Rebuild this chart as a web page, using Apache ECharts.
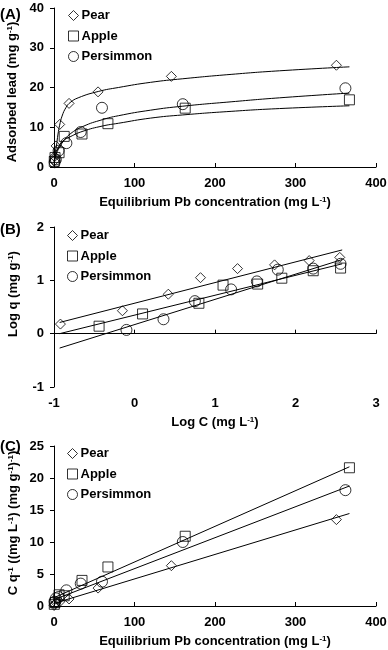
<!DOCTYPE html>
<html>
<head>
<meta charset="utf-8">
<script src="https://cdn.jsdelivr.net/npm/echarts@6/dist/echarts.min.js"></script>
<style>
  html, body { margin: 0; padding: 0; background: #fff; }
  #main { width: 388px; height: 650px; }
</style>
</head>
<body>
<div id="main"></div>
<script>
// (A) adsorbed lead q (mg/g) vs equilibrium concentration C (mg/L)
var pearC = [0.12, 0.7, 2.6, 7.1, 18.7, 54.7, 145.8, 350.8];
var pearQ = [1.5, 2.6, 5.3, 10.7, 16.0, 18.9, 22.8, 25.6];
var appleC = [0.36, 1.3, 6.3, 12.7, 34.8, 67, 163, 367];
var appleQ = [1.4, 2.4, 3.6, 7.7, 8.3, 10.9, 14.8, 16.9];
var persC = [0.8, 2.3, 5.7, 15.4, 33.2, 59.6, 160, 362];
var persQ = [1.2, 1.9, 4.1, 6.0, 8.8, 14.9, 15.8, 19.8];

// fitted curves in (A)
var pearFitC = [0.1, 1, 3, 5, 7, 10, 15, 20, 30, 55, 80, 120, 160, 220, 280, 367];
var pearFitQ = [1.0, 3.0, 5.3, 8.3, 10.5, 12.8, 15.0, 16.2, 17.4, 19.0, 20.0, 21.3, 22.2, 23.3, 24.2, 25.2];
var fitC = [0.2, 2, 5, 11, 20, 36, 60, 80, 120, 160, 220, 280, 367];
var appleFitQ = [1.0, 3.0, 4.8, 6.5, 7.6, 9.0, 10.3, 11.0, 12.3, 13.1, 14.0, 14.7, 15.4];
var persFitQ = [0.8, 2.6, 4.3, 6.3, 8.3, 10.2, 11.9, 12.9, 14.3, 15.3, 16.4, 17.4, 18.6];

// (B) log q vs log C
var pearLogC = [-0.92, -0.15, 0.42, 0.82, 1.28, 1.74, 2.17, 2.55];
var pearLogQ = [0.18, 0.43, 0.74, 1.05, 1.22, 1.29, 1.37, 1.43];
var appleLogC = [-0.44, 0.10, 0.80, 1.10, 1.53, 1.83, 2.22, 2.56];
var appleLogQ = [0.14, 0.37, 0.57, 0.91, 0.93, 1.04, 1.18, 1.23];
var persLogC = [-0.10, 0.36, 0.75, 1.20, 1.52, 1.78, 2.22, 2.56];
var persLogQ = [0.07, 0.27, 0.61, 0.83, 0.98, 1.20, 1.22, 1.31];
var lineLogC = [-0.93, 2.58];
var pearLineQ = [0.21, 1.57];
var appleLineQ = [0.0, 1.31];
var persLineQ = [-0.27, 1.39];

// (C) C/q vs C
var pearCq = [0.08, 0.27, 0.49, 0.66, 1.1, 2.8, 6.3, 13.5];
var appleCq = [0.26, 0.54, 1.75, 1.6, 4.0, 6.1, 10.9, 21.6];
var persCq = [0.67, 1.2, 1.4, 2.45, 3.5, 3.8, 10.0, 18.1];
var lineC = [0, 367];
var pearLineCq = [0.4, 14.45];
var appleLineCq = [1.3, 21.75];
var persLineCq = [1.0, 18.75];

var names = ['Pear', 'Apple', 'Persimmon'];
var font = 'Liberation Sans, Arial, sans-serif';

function pairs (xs, ys) {
  return xs.map(function (x, i) { return [x, ys[i]] })
}

function marks (name, sym, size, xs, ys, idx) {
  return {
    name: name,
    type: 'scatter',
    xAxisIndex: idx,
    yAxisIndex: idx,
    symbol: sym,
    symbolSize: size,
    data: pairs(xs, ys),
    itemStyle: { color: 'rgba(255,255,255,0)', borderColor: '#000', borderWidth: 1 },
    z: 3
  }
}

function fit (xs, ys, idx, smooth) {
  return {
    type: 'line',
    xAxisIndex: idx,
    yAxisIndex: idx,
    data: pairs(xs, ys),
    showSymbol: false,
    symbol: 'none',
    smooth: smooth ? 0.5 : false,
    silent: true,
    lineStyle: { color: '#000', width: 1 },
    z: 2
  }
}

function xAx (idx, min, max, step) {
  return {
    gridIndex: idx, type: 'value', min: min, max: max, interval: step,
    axisLine: { show: true, lineStyle: { color: '#000', width: 1 } },
    axisTick: { show: true, inside: true, length: 4, lineStyle: { color: '#000' } },
    axisLabel: { color: '#000', fontSize: 13, fontWeight: 'bold', fontFamily: font, margin: 10, hideOverlap: false },
    splitLine: { show: false }
  }
}

function yAx (idx, min, max, step) {
  return {
    gridIndex: idx, type: 'value', min: min, max: max, interval: step,
    axisLine: { show: true, onZero: false, lineStyle: { color: '#000', width: 1 } },
    axisTick: { show: true, inside: false, length: 4, lineStyle: { color: '#000' } },
    axisLabel: { color: '#000', fontSize: 13, fontWeight: 'bold', fontFamily: font, margin: 10, hideOverlap: false },
    splitLine: { show: false }
  }
}

function legendAt (left, top) {
  return {
    data: names,
    orient: 'vertical',
    left: left,
    top: top,
    padding: 0,
    itemWidth: 10,
    itemHeight: 10,
    itemGap: 7.5,
    selectedMode: false,
    itemStyle: { color: 'rgba(255,255,255,0)', borderColor: '#000', borderWidth: 1 },
    textStyle: { color: '#000', fontSize: 13, fontWeight: 'bold', fontFamily: font, padding: [0, 0, 0, -2] }
  }
}

var rich = {
  a: { fontSize: 13, fontWeight: 'bold', fontFamily: font, color: '#000' },
  s: { fontSize: 8, fontWeight: 'bold', fontFamily: font, color: '#000', verticalAlign: 'top' }
}

function title (text, x, y, rotate) {
  return {
    type: 'text', x: x, y: y, rotation: rotate ? Math.PI / 2 : 0, silent: true,
    style: { text: text, rich: rich, align: 'center', verticalAlign: 'middle' }
  }
}

function panelTag (text, y) {
  return {
    type: 'text', x: 0, y: y, silent: true,
    style: { text: text, fill: '#000', font: 'bold 15px ' + font, align: 'left', verticalAlign: 'middle' }
  }
}

var xTitle = '{a|Equilibrium Pb concentration (mg L}{s|-1}{a|)}';

var chart = echarts.init(document.getElementById('main'), null, { renderer: 'canvas' })
chart.setOption({
  backgroundColor: '#fff',
  animation: false,
  grid: [
    { left: 54, right: 12, top: 8, height: 159, containLabel: false, outerBoundsMode: 'none' },
    { left: 54, right: 12, top: 227, height: 160, containLabel: false, outerBoundsMode: 'none' },
    { left: 54, right: 12, top: 446, height: 160, containLabel: false, outerBoundsMode: 'none' }
  ],
  xAxis: [xAx(0, 0, 400, 100), xAx(1, -1, 3, 1), xAx(2, 0, 400, 100)],
  yAxis: [yAx(0, 0, 40, 10), yAx(1, -1, 2, 1), yAx(2, 0, 25, 5)],
  legend: [legendAt(68, 9), legendAt(67, 229), legendAt(67, 447)],
  series: [
    marks('Pear', 'diamond', 10, pearC, pearQ, 0),
    marks('Apple', 'rect', 10, appleC, appleQ, 0),
    marks('Persimmon', 'circle', 11, persC, persQ, 0),
    fit(pearFitC, pearFitQ, 0, true),
    fit(fitC, appleFitQ, 0, true),
    fit(fitC, persFitQ, 0, true),

    marks('Pear', 'diamond', 10, pearLogC, pearLogQ, 1),
    marks('Apple', 'rect', 10, appleLogC, appleLogQ, 1),
    marks('Persimmon', 'circle', 11, persLogC, persLogQ, 1),
    fit(lineLogC, pearLineQ, 1, false),
    fit(lineLogC, appleLineQ, 1, false),
    fit(lineLogC, persLineQ, 1, false),

    marks('Pear', 'diamond', 10, pearC, pearCq, 2),
    marks('Apple', 'rect', 10, appleC, appleCq, 2),
    marks('Persimmon', 'circle', 11, persC, persCq, 2),
    fit(lineC, pearLineCq, 2, false),
    fit(lineC, appleLineCq, 2, false),
    fit(lineC, persLineCq, 2, false)
  ],
  graphic: [
    panelTag('(A)', 15),
    panelTag('(B)', 230),
    panelTag('(C)', 447),
    title('{a|Adsorbed lead (mg g}{s|-1}{a|)}', 12, 92, true),
    title('{a|Log q (mg g}{s|-1}{a|)}', 13, 294, true),
    title('{a|C q}{s|-1}{a| ((mg L}{s|-1}{a|) (mg g}{s|-1}{a|)}{s|-1}{a|)}', 13, 523, true),
    title(xTitle, 215, 202, false),
    title('{a|Log C (mg L}{s|-1}{a|)}', 215, 422, false),
    title(xTitle, 215, 641, false)
  ]
})
</script>
</body>
</html>
